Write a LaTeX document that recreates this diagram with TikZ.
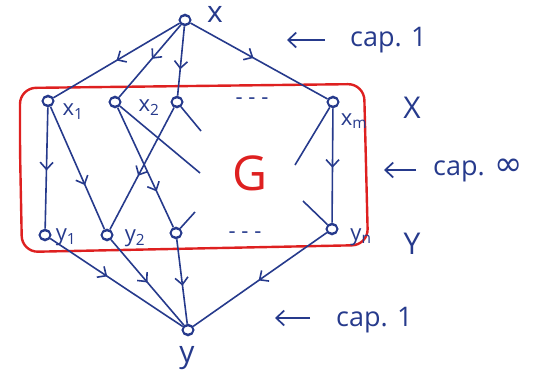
\documentclass[tikz,border=0pt]{standalone}
\usepackage{fontspec}
\setmainfont{Open Sans}
\newfontfamily\symfont{DejaVu Sans}
\usetikzlibrary{arrows.meta,decorations.markings}
\definecolor{ink}{RGB}{38,58,140}
\definecolor{redink}{RGB}{222,32,32}
\tikzset{
  vert/.style={circle, draw=ink, line width=1.6pt, minimum width=11pt, minimum height=9pt, inner sep=0pt, fill=white},
  flow/.style={draw=ink, line width=1.6pt, postaction={decorate},
    decoration={markings, mark=at position #1 with {\arrow[ink, line width=1.6pt]{Straight Barb[length=7pt,width=13pt]}}}},
  flow/.default=0.5,
  plain/.style={draw=ink, line width=1.6pt},
  lbl/.style={text=ink, inner sep=0pt, font=\fontsize{22}{24}\selectfont},
  biglbl/.style={text=ink, inner sep=0pt, font=\fontsize{30}{32}\selectfont},
  caplbl/.style={text=ink, inner sep=0pt, font=\fontsize{27}{30}\selectfont, anchor=west},
  capar/.style={draw=ink, line width=1.7pt, -{Straight Barb[length=8pt,width=15pt]}},
}
\begin{document}
\begin{tikzpicture}[x=1pt,y=-1pt]
\useasboundingbox (0,0) rectangle (550,375);
% red set box
\draw[redink, line width=2.4pt, rounded corners=16pt] (20,150) -- (20,88) -- (364,84) -- (368,245) -- (22,252) -- cycle;
\node[text=redink, inner sep=0pt, font=\fontsize{48}{50}\selectfont] (G) at (250,173) {G};
% vertices
\node[vert] (x) at (185,20) {};
\node[vert] (x1) at (48,101) {};
\node[vert] (x2) at (115,102) {};
\node[vert] (x3) at (177,102) {};
\node[vert] (xm) at (333,102) {};
\node[vert] (y1) at (45,235) {};
\node[vert] (y2) at (107,235) {};
\node[vert] (y3) at (176,233) {};
\node[vert] (yn) at (332,229) {};
\node[vert] (y) at (188,330) {};
% free ends
\coordinate (e2) at (200,173);
\coordinate (e3) at (201,131);
\coordinate (em) at (295,165);
\coordinate (ey3) at (195,212);
\coordinate (eyn) at (303,201);
% edges
\draw[flow=0.5] (x) -- (x1);
\draw[flow=0.47] (x) -- (x2);
\draw[flow=0.62] (x) -- (x3);
\draw[flow=0.46] (x) -- (xm);
\draw[flow=0.52] (x1) -- (y1);
\draw[flow=0.64] (x1) -- (y2);
\draw[flow=0.56] (x3) -- (y2);
\draw[flow=0.7] (x2) -- (y3);
\draw[plain] (x2) -- (e2);
\draw[plain] (x3) -- (e3);
\draw[plain] (xm) -- (em);
\draw[flow=0.52] (xm) -- (yn);
\draw[plain] (y3) -- (ey3);
\draw[plain] (eyn) -- (yn);
\draw[flow=0.43] (y1) -- (y);
\draw[flow=0.5] (y2) -- (y);
\draw[flow=0.55] (y3) -- (y);
\draw[flow=0.51] (yn) -- (y);
% redraw vertices on top
\foreach \v in {x,x1,x2,x3,xm,y1,y2,y3,yn,y} \draw[ink, line width=1.6pt] (\v.center) ellipse (5.5pt and 4.5pt);
% labels
\node[biglbl] (lx) at (215,14) {x};
\node[lbl] (lx1) at (73,112) {x\textsubscript{1}};
\node[lbl] (lx2) at (149,108) {x\textsubscript{2}};
\node[lbl] (lxm) at (354,121) {x\textsubscript{m}};
\node[lbl] (ly1) at (66,237) {y\textsubscript{1}};
\node[lbl] (ly2) at (135,238) {y\textsubscript{2}};
\node[lbl] (lyn) at (361,237) {y\textsubscript{n}};
\node[biglbl] (ly) at (187,358) {y};
\node[lbl] (dtop) at (252,101) {- - -};
\node[lbl] (dbot) at (245,235) {- - -};
\node[biglbl] (lX) at (412,108) {X};
\node[biglbl] (lY) at (412,244) {Y};
% capacities
\coordinate (c1s) at (325,40);
\coordinate (c1e) at (287,40);
\draw[capar] (c1s) -- (c1e);
\node[caplbl] (cap1) at (350,40) {cap. 1};
\coordinate (c2s) at (416,170);
\coordinate (c2e) at (384,170);
\draw[capar] (c2s) -- (c2e);
\node[caplbl] (cap2) at (433,170) {cap. {\symfont\fontsize{34}{36}\selectfont ∞}};
\coordinate (c3s) at (310,318);
\coordinate (c3e) at (275,318);
\draw[capar] (c3s) -- (c3e);
\node[caplbl] (cap3) at (336,320) {cap. 1};
\end{tikzpicture}
\end{document}
